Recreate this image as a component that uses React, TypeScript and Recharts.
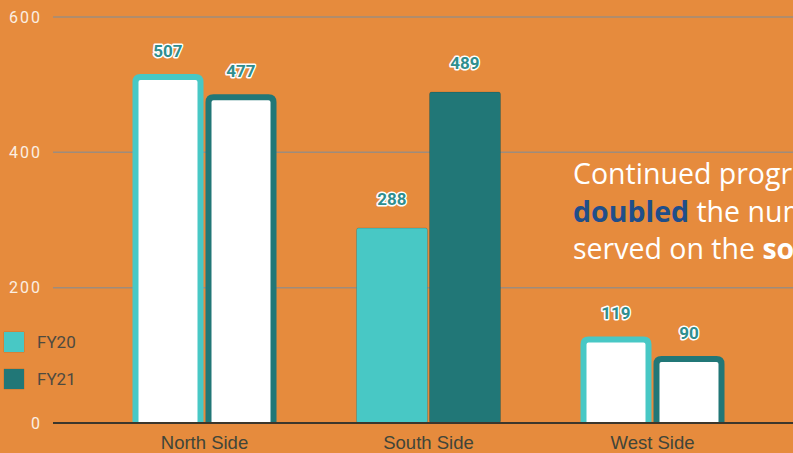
import React from "react";
import { BarChart, Bar, XAxis, YAxis, CartesianGrid, LabelList } from "recharts";

const categories = ["North Side", "South Side", "West Side"];
const fy20 = [507, 288, 119];
const fy21 = [477, 489, 90];
const yTicks = [0, 200, 400, 600];
const seriesNames = ["FY20", "FY21"];

const COLORS = { FY20: "#48C8C5", FY21: "#217777" };
const BG = "#E68B3D";

const data = categories.map((c, i) => ({ name: c, FY20: fy20[i], FY21: fy21[i] }));

const makeShape = (color: string) => (props: any) => {
  const { x, y, width, height, payload } = props;
  if (height <= 0) return null;
  const hollow = payload.name !== "South Side";
  if (hollow) {
    const sw = 6;
    const x0 = x + sw / 2;
    const x1 = x + width - sw / 2;
    const y0 = y - 3;
    const y1 = y + height;
    const r = 5;
    const d = `M${x0},${y1} L${x0},${y0 + r} Q${x0},${y0} ${x0 + r},${y0} L${x1 - r},${y0} Q${x1},${y0} ${x1},${y0 + r} L${x1},${y1}`;
    return <path d={d} fill="#FFFFFF" stroke={color} strokeWidth={sw} />;
  }
  return <rect x={x} y={y} width={width} height={height} rx={2} ry={2} fill={color} stroke="rgba(0,0,0,0.15)" strokeWidth={1} />;
};

const renderLabel = (props: any) => {
  const { x, y, width, value } = props;
  return (
    <text
      x={x + width / 2}
      y={y - 23}
      textAnchor="middle"
      fontFamily="Roboto, sans-serif"
      fontWeight={700}
      fontSize={17}
      fill="#2F8E8E"
      stroke="#FFFFFF"
      strokeWidth={3}
      strokeLinejoin="round"
      paintOrder="stroke"
    >
      {value}
    </text>
  );
};

export default function App() {
  return (
    <div style={{ position: "fixed", left: 0, top: 0, width: 793, height: 453, overflow: "hidden", background: BG }}>
      <BarChart
        width={900}
        height={453}
        data={data}
        margin={{ top: 17, right: 0, bottom: 0, left: 0 }}
        barSize={71}
        barGap={2}
      >
        <CartesianGrid vertical={false} stroke="#9E8C7C" strokeWidth={1.5} />
        <XAxis
          dataKey="name"
          height={30}
          padding={{ left: 39.5, right: 135.5 }}
          axisLine={{ stroke: "#3B362C", strokeWidth: 2 }}
          tickLine={false}
          tickMargin={7}
          tick={{ fill: "#404539", fontSize: 18.5, fontFamily: "Liberation Sans, Arial, sans-serif" }}
        />
        <YAxis
          width={53}
          domain={[0, 600]}
          ticks={yTicks}
          axisLine={false}
          tickLine={false}
          tickSize={0}
          tickMargin={11}
          tick={{ fill: "#FBEFE3", fontSize: 16, fontFamily: "Roboto, sans-serif", letterSpacing: 2 }}
        />
        <Bar dataKey="FY20" fill={COLORS.FY20} shape={makeShape(COLORS.FY20)} isAnimationActive={false}>
          <LabelList dataKey="FY20" content={renderLabel} />
        </Bar>
        <Bar dataKey="FY21" fill={COLORS.FY21} shape={makeShape(COLORS.FY21)} isAnimationActive={false}>
          <LabelList dataKey="FY21" content={renderLabel} />
        </Bar>
      </BarChart>
      <div style={{ position: "absolute", left: 4, top: 323, fontFamily: "Roboto, sans-serif" }}>
        {seriesNames.map((n) => (
          <div key={n} style={{ display: "flex", alignItems: "center", height: 37 }}>
            <div style={{ width: 20, height: 20, background: (COLORS as any)[n], boxShadow: "0 0 1px rgba(0,0,0,0.4)" }} />
            <span style={{ marginLeft: 13, fontSize: 17, color: "#4E4A40" }}>{n}</span>
          </div>
        ))}
      </div>
      <div
        style={{
          position: "absolute",
          left: 573,
          top: 155,
          whiteSpace: "nowrap",
          fontFamily: "'Open Sans', sans-serif",
          fontSize: 28.5,
          lineHeight: "37.5px",
          color: "#FFFFFF",
        }}
      >
        <div>Continued progress</div>
        <div>
          <span style={{ fontWeight: 700, color: "#1F4E8A" }}>doubled</span> the number
        </div>
        <div>
          served on the <span style={{ fontWeight: 700 }}>south</span>
        </div>
      </div>
    </div>
  );
}
